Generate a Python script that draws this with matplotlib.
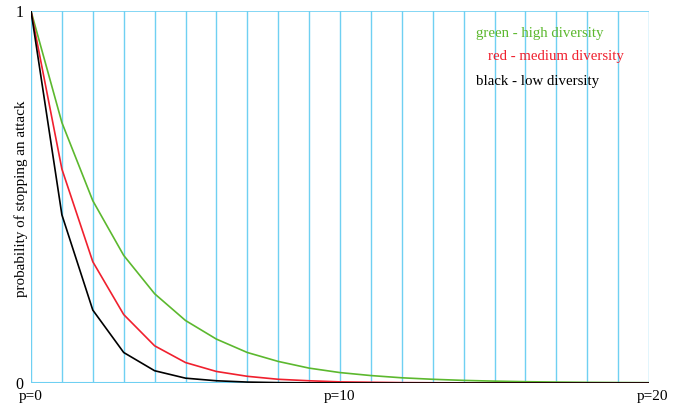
import numpy as np
import matplotlib
matplotlib.use('Agg')
import matplotlib.pyplot as plt

# values, p = 0 .. 20
p_vals = list(range(21))
high_div = [1.0, 0.70, 0.49, 0.343, 0.24, 0.168, 0.118, 0.082, 0.058, 0.040, 0.028,
            0.020, 0.014, 0.010, 0.007, 0.005, 0.0035, 0.0025, 0.0017, 0.0012, 0.0008]
medium_div = [1.0, 0.575, 0.326, 0.184, 0.100, 0.055, 0.031, 0.018, 0.010, 0.006, 0.003,
              0.002, 0.001, 0.0006, 0.0004, 0.0002, 0.0001, 0.0001, 0.0, 0.0, 0.0]
low_div = [1.0, 0.452, 0.196, 0.082, 0.033, 0.013, 0.006, 0.0025, 0.001, 0.0004, 0.0002,
           0.0001, 0.0, 0.0, 0.0, 0.0, 0.0, 0.0, 0.0, 0.0, 0.0]
x_labels = ['p=0', 'p=10', 'p=20']
y_labels = ['0', '1']

grid_blue = '#6fd0f2'
green = '#5cb82e'
red = '#f0202e'

plt.rcParams['font.family'] = ['Liberation Serif', 'DejaVu Serif']

fig = plt.figure(figsize=(6.81, 4.03), dpi=100)
ax = fig.add_axes([31/681, 20/403, 618/681, 372/403])

for p in p_vals:
	ax.axvline(p, color=grid_blue, linewidth=1.0, zorder=0)
ax.axhline(1, color=grid_blue, linewidth=1.2, zorder=0)

ax.plot(p_vals, high_div, color=green, linewidth=1.2)
ax.plot(p_vals, medium_div, color=red, linewidth=1.2)
ax.plot(p_vals, low_div, color='black', linewidth=1.2)

ax.set_xlim(0, 20)
ax.set_ylim(0, 1)
for s in ax.spines.values():
	s.set_visible(False)
ax.axhline(0, color=grid_blue, linewidth=1.5, zorder=0)
ax.set_xticks([])
ax.set_yticks([])

# axis end labels
ax.text(-0.25, -0.006, y_labels[0], ha='right', va='center', fontsize=11.5)
ax.text(-0.25, 0.994, y_labels[1], ha='right', va='center', fontsize=11.5)
ax.text(0.0, -0.02, x_labels[0], ha='center', va='top', fontsize=11)
ax.text(10, -0.02, x_labels[1], ha='center', va='top', fontsize=11)
ax.text(20.12, -0.02, x_labels[2], ha='center', va='top', fontsize=11)

fig.text(21.5/681, 1 - 199/403, 'probability of stopping an attack', rotation=90,
	ha='center', va='center', fontsize=10.9)

# legend written as coloured text
ax.text(14.4, 0.939, 'green - high diversity', color=green, ha='left', va='center', fontsize=10.7)
ax.text(14.8, 0.877, 'red - medium diversity', color=red, ha='left', va='center', fontsize=10.7)
ax.text(14.4, 0.810, 'black - low diversity', color='black', ha='left', va='center', fontsize=10.7)

fig.savefig('out.png', dpi=100)
